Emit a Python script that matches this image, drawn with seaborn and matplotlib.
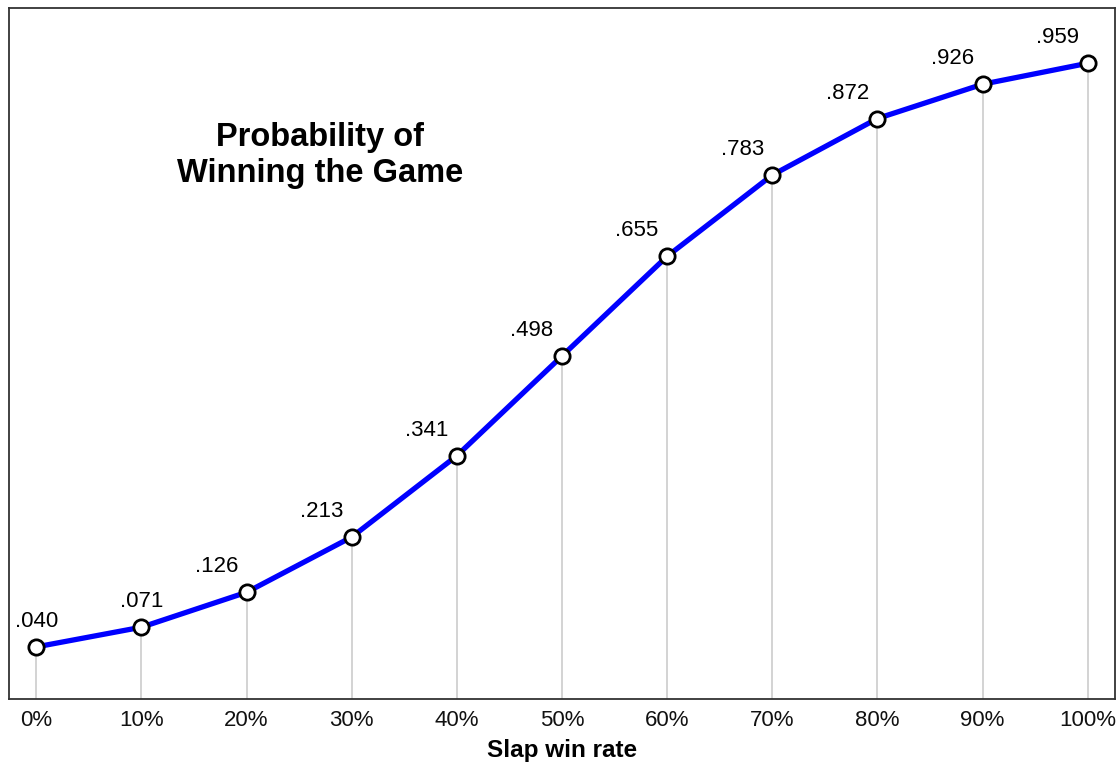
"""Probability of winning the game vs. slap win rate."""

import matplotlib
matplotlib.use("Agg")
import matplotlib.pyplot as plt
import pandas as pd
import seaborn as sns

# Data
slap_rate = [0, 10, 20, 30, 40, 50, 60, 70, 80, 90, 100]
win_prob = [0.040, 0.071, 0.126, 0.213, 0.341, 0.498, 0.655, 0.783, 0.872, 0.926, 0.959]
tick_labels = [f"{v}%" for v in slap_rate]
value_labels = [f"{v:.3f}"[1:] for v in win_prob]

df = pd.DataFrame({"rate": slap_rate, "prob": win_prob})

sns.set_theme(style="white")
plt.rcParams["font.family"] = ["Liberation Sans", "DejaVu Sans"]

fig = plt.figure(figsize=(11.19, 7.65), dpi=100)
ax = fig.add_axes([0.008, 0.0863, 0.9884, 0.9032])

ymin, ymax = -0.042, 1.046
ax.vlines(df["rate"], ymin, df["prob"], color="#c8c8c8", linewidth=1.1, zorder=1)

sns.lineplot(data=df, x="rate", y="prob", ax=ax, color="#0000ff", linewidth=3.8,
             marker="o", markersize=11, markerfacecolor="white",
             markeredgecolor="black", markeredgewidth=2.0, zorder=3)

for i, (x, y, lab) in enumerate(zip(slap_rate, win_prob, value_labels)):
    dx = 0 if i < 2 else -30
    ax.annotate(lab, (x, y), xytext=(dx, 15), textcoords="offset pixels",
                ha="center", va="bottom", fontsize=16, color="black")

ax.text(27.0, 0.814, "Probability of\nWinning the Game", ha="center", va="center",
        fontsize=23.5, fontweight="bold", color="black", linespacing=1.2)

ax.set_xlim(-2.6, 102.6)
ax.set_ylim(ymin, ymax)
ax.set_xticks(slap_rate)
ax.set_xticklabels(tick_labels, fontsize=16, color="#111111")
ax.set_yticks([])
ax.tick_params(axis="x", length=0, pad=8)
ax.set_xlabel("Slap win rate", fontsize=17.5, fontweight="bold", color="black",
              labelpad=6)
ax.set_ylabel("")

for spine in ax.spines.values():
    spine.set_color("#333333")
    spine.set_linewidth(1.3)

fig.savefig("out.png", dpi=100)
